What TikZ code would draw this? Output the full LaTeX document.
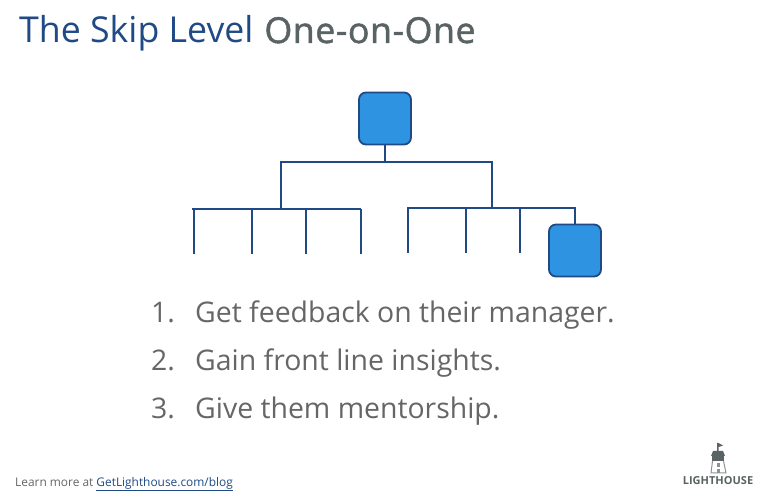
\documentclass[tikz,border=0pt]{standalone}
\usepackage{fontspec}
\setmainfont{Open Sans}
\newfontfamily\heavyfont[FakeBold=1.4,LetterSpace=1.6]{Open Sans}
\definecolor{linkblue}{HTML}{1F4A85}
\definecolor{boxblue}{HTML}{2E93E0}
\definecolor{slategrey}{HTML}{5A6364}
\definecolor{listgrey}{HTML}{666666}
\tikzset{
	orgbox/.style={draw=linkblue, line width=1.8pt, fill=boxblue, rounded corners=7pt, minimum size=52pt, inner sep=0pt},
	orgline/.style={draw=linkblue, line width=1.5pt},
	listitem/.style={anchor=base west, inner sep=0pt, text=listgrey, font=\fontsize{28.4}{28.4}\selectfont},
}
\begin{document}
\begin{tikzpicture}[x=1pt, y=-1pt]
	\useasboundingbox (0,0) rectangle (766,502);
	\node[anchor=base west, inner sep=0pt, font=\fontsize{35.7}{35.7}\selectfont] (title) at (19,43) {\textcolor{linkblue}{The Skip Level}\hspace{11pt}\textcolor{slategrey}{\heavyfont One-on-One}};

	\node[orgbox] (boss) at (385,118.5) {};
	\node[orgbox] (report) at (575,250.5) {};

	%Verbindung oben
	\coordinate (split) at (385,162);
	\coordinate (leftup) at (281,162);
	\coordinate (rightup) at (492,162);
	\coordinate (leftdown) at (281,209);
	\coordinate (rightdown) at (492,208);
	\draw[orgline] (boss) -- (split);
	\draw[orgline] (leftdown) -- (leftup) -- (rightup) -- (rightdown);

	%linke Gruppe
	\coordinate (lb) at (361,209);
	\draw[orgline] (192,209) -- (lb);
	\foreach \x/\n in {194/a,252/b,306/c,361/d}
		\draw[orgline] (\x,209) -- (\x,254.5);

	%rechte Gruppe
	\coordinate (rb) at (575,208);
	\draw[orgline] (407,208) -- (rb) -- (report);
	\foreach \x/\n in {408/a,466/b,520/c}
		\draw[orgline] (\x,208) -- (\x,253.5);

	%Liste
	\node[listitem] (numa) at (151,323) {1.};
	\node[listitem] (itema) at (195,323) {Get feedback on their manager.};
	\node[listitem] (numb) at (151,371) {2.};
	\node[listitem] (itemb) at (195,371) {Gain front line insights.};
	\node[listitem] (numc) at (151,419) {3.};
	\node[listitem] (itemc) at (195,419) {Give them mentorship.};

	\node[anchor=base west, inner sep=0pt, text=listgrey, font=\fontsize{11.9}{11.9}\selectfont] (more) at (15,486) {Learn more at \textcolor{linkblue}{\underline{GetLighthouse.com/blog}}};

	%Leuchtturm
	\fill[slategrey] (717,443) -- (717,452) -- (718.5,452) -- (718.5,447) -- (723,445.5) -- (718.5,443) -- cycle;
	\fill[slategrey] (711,456) -- (713,451) -- (723,451) -- (725,456) -- cycle;
	\fill[slategrey] (712,456) rectangle (724,461);
	\draw[slategrey!70, line width=1pt] (712.5,461) -- (711,473) -- (726,473) -- (723.5,461);
	\fill[slategrey!70] (716.5,463) rectangle (719.5,467);
	\fill[slategrey!70] (716.5,469) rectangle (719.5,473);
	\node[anchor=base, inner sep=0pt, text=slategrey, font=\bfseries\fontsize{11}{11}\selectfont] (logo) at (718,484) {LIGHTHOUSE};
\end{tikzpicture}
\end{document}
